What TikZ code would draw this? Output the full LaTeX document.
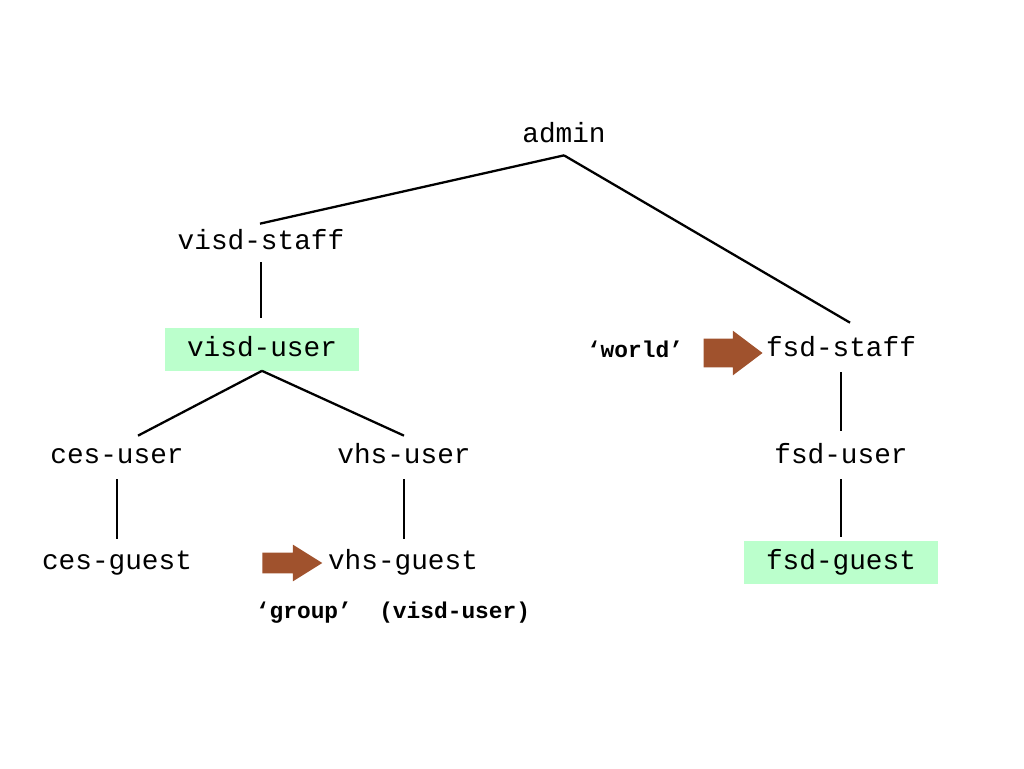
\documentclass[tikz,border=0pt]{standalone}
\usepackage{fontspec}
\setmonofont{Liberation Mono}
\usepackage{xcolor}
\usetikzlibrary{shapes.arrows}

\definecolor{usergreen}{HTML}{BBFFCC}
\definecolor{permbrown}{HTML}{A0522D}

\tikzset{
    grp/.style={font=\ttfamily\fontsize{15.8}{18}\selectfont, inner sep=0pt,
        text height=0.8em, text depth=0em, minimum height=0.8cm},
    usrbox/.style={grp, fill=usergreen, minimum width=3.88cm, minimum height=0.86cm},
    perm/.style={font=\ttfamily\bfseries\fontsize{13}{15}\selectfont, inner sep=0pt},
    permarrow/.style={single arrow, fill=permbrown, inner xsep=0pt, single arrow head extend=0.16cm},
    link/.style={line width=1.3pt}
}

\begin{document}
\begin{tikzpicture}[x=0.02cm, y=-0.02cm]  % one unit = one pixel of the reference
    \useasboundingbox (0,0) rectangle (1024,768);

    % Groups
    \node[grp] (admin) at (564,135) {admin};
    \node[grp] (visd-staff) at (261,242) {visd-staff};
    \node[usrbox] (visd-user) at (262,349) {visd-user};
    \node[grp] (fsd-staff) at (841,349) {fsd-staff};
    \node[grp] (ces-user) at (117,456) {ces-user};
    \node[grp] (vhs-user) at (404,456) {vhs-user};
    \node[grp] (fsd-user) at (841,456) {fsd-user};
    \node[grp] (ces-guest) at (117,562) {ces-guest};
    \node[grp] (vhs-guest) at (403,562) {vhs-guest};
    \node[usrbox] (fsd-guest) at (841,562) {fsd-guest};

    % Tree edges
    \draw[link] (admin.south) -- ([shift={(-1,2)}]visd-staff.north);
    \draw[link] (admin.south) -- ([shift={(9,-6)}]fsd-staff.north);
    \draw[link] (visd-staff.south) -- ([shift={(-1,-9)}]visd-user.north);
    \draw[link] (visd-user.south) -- ([shift={(21,0)}]ces-user.north);
    \draw[link] (visd-user.south) -- (vhs-user.north);
    \draw[link] ([shift={(0,3)}]ces-user.south) -- ([shift={(0,-3)}]ces-guest.north);
    \draw[link] ([shift={(0,3)}]vhs-user.south) -- ([shift={(1,-3)}]vhs-guest.north);
    \draw[link] ([shift={(0,3)}]fsd-staff.south) -- ([shift={(0,-5)}]fsd-user.north);
    \draw[link] ([shift={(0,3)}]fsd-user.south) -- ([shift={(0,-3)}]fsd-guest.north);

    % Permission labels and arrows
    \node[perm] (world) at (635,349) {‘world’};
    \node[permarrow, inner ysep=0.28cm, minimum width=0.88cm, minimum height=1.18cm,
        single arrow tip angle=74] (worldarrow) at (723.5,353) {};
    \node[permarrow, inner ysep=0.2cm, minimum width=0.72cm, minimum height=1.2cm,
        single arrow tip angle=64] (grouparrow) at (284,563) {};
    \node[perm] (group) at (393,613) {‘group’\ \ (visd-user)};
\end{tikzpicture}
\end{document}
